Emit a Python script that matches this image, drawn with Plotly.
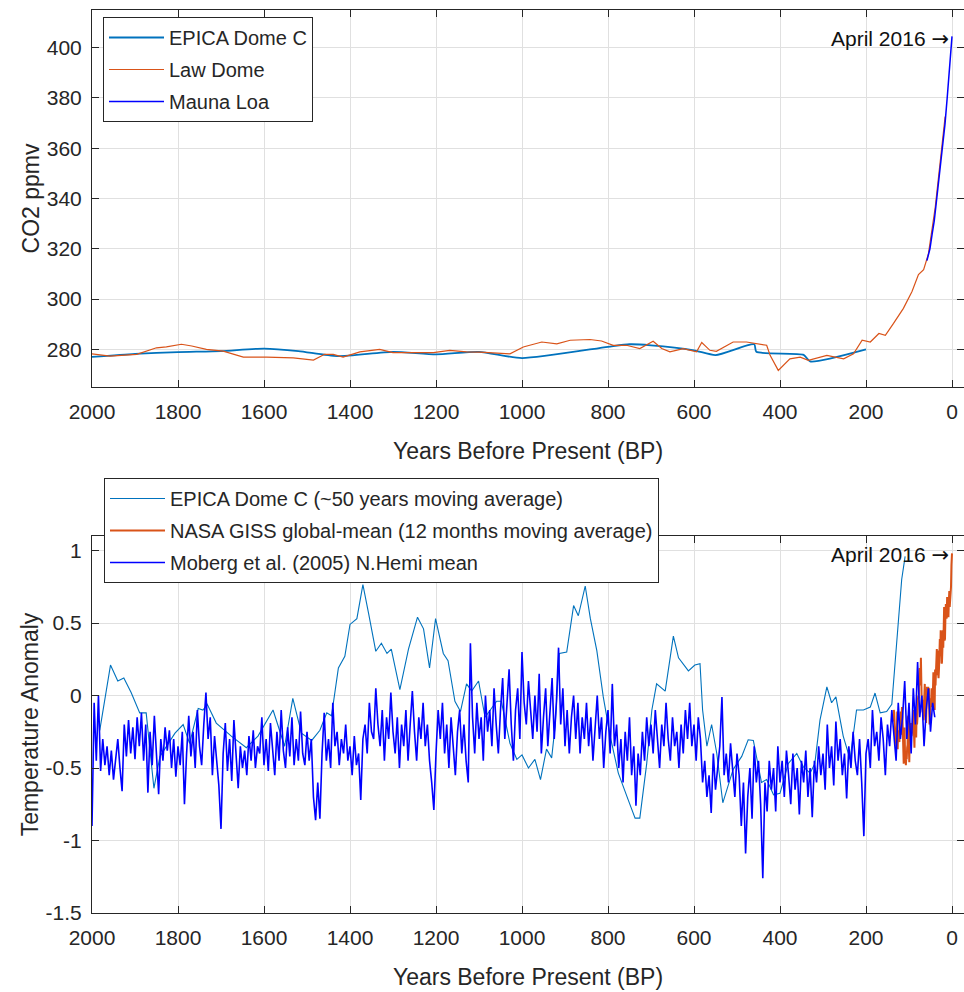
import numpy as np
import plotly.graph_objects as go

# ---------------- data: top panel (CO2) ----------------
epica_co2_bp = [2000, 1900, 1800, 1700, 1600, 1520, 1430, 1300, 1200, 1100, 1000, 800, 750, 700,
                600, 550, 460, 455, 345, 330, 200]
epica_co2 = [277.0, 278.2, 278.9, 279.3, 280.3, 279.3, 277.3, 279.0, 278.0, 279.0, 276.5, 281.0,
             282.0, 281.6, 279.6, 277.7, 282.0, 279.0, 277.8, 275.2, 280.0]

law_bp = [2001, 1958, 1896, 1850, 1827, 1792, 1768, 1734, 1695, 1648, 1594, 1532, 1485, 1459,
          1439, 1416, 1377, 1331, 1300, 1245, 1206, 1168, 1129, 1098, 1028, 997, 954, 919, 888,
          842, 815, 788, 757, 726, 695, 675, 656, 625, 594, 582, 563, 548, 509, 478, 447, 431,
          423, 404, 377, 353, 334, 291, 252, 229, 209, 190, 170, 155, 136, 113, 93, 78, 66, 55,
          39, 24, 16]
law_co2 = [278.2, 277.3, 278.0, 280.6, 281.0, 282.0, 281.3, 280.0, 279.3, 276.9, 276.9, 276.6,
           275.7, 278.0, 278.0, 276.9, 279.0, 280.0, 278.7, 278.7, 278.7, 279.6, 279.0, 278.9,
           278.2, 280.9, 282.9, 282.2, 283.6, 283.9, 283.3, 281.6, 281.6, 280.3, 283.2, 280.3,
           279.0, 280.3, 279.0, 282.7, 279.6, 279.2, 282.9, 282.9, 282.2, 281.6, 277.6, 271.6,
           276.2, 276.9, 275.6, 277.6, 276.2, 278.2, 283.6, 282.9, 286.3, 285.6, 290.3, 296.3,
           303.0, 309.7, 311.7, 317.8, 336.5, 361.9, 372.6]

mauna_bp = [58.3, 56.3, 51.3, 46.3, 41.3, 36.3, 31.3, 26.3, 21.3, 16.3, 11.3, 6.3, 1.3, 0.0]
mauna_co2 = [315.3, 316.9, 320.0, 325.7, 331.1, 338.7, 346.1, 354.4, 360.8, 369.6, 379.8,
             389.9, 400.8, 404.5]

# ---------------- data: bottom panel (temperature anomaly) ----------------
epica_t_bp = [1982, 1957, 1940, 1926, 1909, 1889, 1874, 1856, 1842, 1807, 1788, 1773, 1753, 1742,
              1732, 1711, 1676, 1641, 1614, 1579, 1552, 1533, 1513, 1489, 1470, 1454, 1443, 1427,
              1412, 1400, 1384, 1370, 1357, 1340, 1327, 1314, 1304, 1284, 1264, 1243, 1229, 1215,
              1201, 1183, 1172, 1156, 1143, 1129, 1117, 1101, 1086, 1059, 1048, 1028, 1012, 1000,
              985, 970, 957, 943, 931, 923, 913, 896, 880, 869, 853, 841, 826, 811, 795, 776, 753,
              737, 726, 710, 698, 687, 667, 648, 636, 613, 598, 586, 580, 570, 559, 547, 533, 509,
              489, 474, 462, 454, 443, 431, 415, 400, 381, 361, 346, 330, 319, 307, 291, 280, 270,
              253, 237, 222, 206, 190, 179, 167, 152, 140, 133, 125, 117, 109]
epica_t = [-0.24, 0.21, 0.10, 0.12, 0.02, -0.12, -0.12, -0.64, -0.42, -0.26, -0.20, -0.33, -0.09,
           -0.10, -0.06, -0.19, -0.28, -0.36, -0.28, -0.10, -0.35, -0.02, -0.26, -0.31, -0.24,
           -0.12, -0.14, 0.19, 0.27, 0.49, 0.53, 0.765, 0.57, 0.305, 0.36, 0.29, 0.32, 0.04, 0.32,
           0.54, 0.46, 0.19, 0.53, 0.29, 0.24, -0.04, -0.11, 0.08, 0.03, 0.10, -0.15, -0.04,
           -0.04, -0.33, -0.44, -0.41, -0.50, -0.44, -0.58, -0.37, -0.43, -0.21, 0.29, 0.30,
           0.62, 0.55, 0.755, 0.53, 0.31, -0.01, -0.28, -0.535, -0.72, -0.846, -0.846, -0.47,
           -0.10, 0.08, 0.03, 0.41, 0.26, 0.17, 0.21, 0.22, -0.10, -0.35, -0.20, -0.40, -0.74,
           -0.51, -0.42, -0.305, -0.31, -0.44, -0.60, -0.58, -0.685, -0.675, -0.47, -0.40, -0.49,
           -0.535, -0.47, -0.17, 0.06, -0.05, -0.01, -0.28, -0.44, -0.10, -0.10, -0.08, 0.017,
           -0.12, -0.11, -0.06, 0.22, 0.48, 0.80, 0.96]

giss_year = list(range(1880, 2016)) + [2016.3]
giss_t = [-0.18, -0.10, -0.12, -0.20, -0.28, -0.33, -0.31, -0.36, -0.18, -0.11,
          -0.37, -0.24, -0.27, -0.31, -0.32, -0.23, -0.11, -0.11, -0.27, -0.17,
          -0.08, -0.15, -0.28, -0.37, -0.47, -0.26, -0.22, -0.39, -0.43, -0.48,
          -0.43, -0.44, -0.36, -0.34, -0.15, -0.14, -0.36, -0.46, -0.30, -0.27,
          -0.27, -0.19, -0.28, -0.26, -0.27, -0.22, -0.10, -0.22, -0.20, -0.36,
          -0.16, -0.09, -0.16, -0.29, -0.12, -0.20, -0.15, -0.03, 0.00, -0.02,
          0.13, 0.19, 0.07, 0.09, 0.26, 0.09, -0.07, -0.03, -0.11, -0.11,
          -0.17, -0.07, 0.01, 0.08, -0.13, -0.14, -0.19, 0.05, 0.06, 0.03,
          -0.03, 0.06, 0.03, 0.05, -0.20, -0.11, -0.06, -0.02, -0.08, 0.05,
          0.03, -0.08, 0.01, 0.16, -0.07, -0.01, -0.10, 0.18, 0.07, 0.16,
          0.26, 0.32, 0.14, 0.31, 0.16, 0.12, 0.18, 0.32, 0.39, 0.27,
          0.45, 0.41, 0.22, 0.23, 0.32, 0.45, 0.33, 0.46, 0.61, 0.38,
          0.39, 0.54, 0.63, 0.62, 0.53, 0.68, 0.64, 0.66, 0.54, 0.65,
          0.72, 0.61, 0.64, 0.68, 0.75, 0.90, 0.98]

# Moberg et al. (2005), read every 5 years from 2000 BP onward
moberg_t = [
    -0.90, -0.05, -0.45, 0.00, -0.52, -0.30, -0.48, -0.35, -0.55, -0.38,
    -0.58, -0.42, -0.30, -0.50, -0.66, -0.20, -0.42, -0.17, -0.40, -0.22,
    -0.44, -0.15, -0.35, -0.12, -0.45, -0.20, -0.67, -0.25, -0.48, -0.14,
    -0.40, -0.68, -0.30, -0.45, -0.22, -0.38, -0.24, -0.50, -0.30, -0.56,
    -0.35, -0.48, -0.25, -0.75, -0.40, -0.14, -0.42, -0.25, -0.50, -0.10,
    -0.35, -0.48, -0.20, 0.02, -0.30, -0.15, -0.55, -0.28, -0.45, -0.62,
    -0.92, -0.40, -0.19, -0.52, -0.30, -0.59, -0.17, -0.45, -0.64, -0.35,
    -0.50, -0.38, -0.55, -0.28, -0.45, -0.24, -0.50, -0.35, -0.40, -0.15,
    -0.48, -0.30, -0.52, -0.19, -0.40, -0.55, -0.25, -0.45, -0.10, -0.38,
    -0.50, -0.22, -0.42, -0.15, -0.48, -0.30, -0.45, -0.11, -0.40, -0.48,
    -0.25, -0.45, -0.30, -0.70, -0.86, -0.60, -0.85, -0.40, -0.12, -0.45,
    -0.30, -0.50, -0.05, -0.35, -0.25, -0.48, -0.30, -0.40, -0.20, -0.45,
    -0.35, -0.55, -0.28, -0.48, -0.40, -0.72, -0.30, -0.20, -0.40, -0.05,
    -0.25, -0.30, 0.05, -0.20, -0.35, -0.10, -0.45, -0.15, -0.30, 0.02,
    -0.25, -0.40, -0.15, -0.50, -0.20, -0.35, -0.10, -0.45, -0.20, 0.03,
    -0.25, -0.45, -0.15, -0.30, -0.05, -0.35, -0.20, -0.45, -0.60, -0.79,
    -0.40, -0.10, -0.30, -0.05, -0.40, -0.20, -0.50, -0.15, -0.35, -0.55,
    -0.25, -0.10, -0.40, -0.20, -0.45, -0.60, 0.36, -0.15, -0.40, -0.05,
    -0.30, -0.15, -0.45, 0.00, -0.25, -0.10, -0.35, 0.05, -0.20, -0.40,
    -0.10, 0.12, -0.30, -0.05, 0.18, -0.20, -0.45, -0.10, 0.05, -0.30,
    0.30, -0.05, -0.20, 0.10, -0.10, -0.30, 0.00, -0.25, 0.15, -0.40,
    -0.15, 0.05, -0.35, -0.10, 0.12, -0.30, -0.05, 0.33, -0.20, 0.05,
    -0.35, -0.10, -0.40, -0.15, 0.00, -0.30, -0.05, -0.40, -0.15, -0.30,
    -0.05, -0.35, -0.15, -0.45, -0.20, 0.00, -0.30, -0.15, -0.50, -0.25,
    -0.10, -0.40, 0.08, -0.35, -0.20, -0.50, -0.30, -0.60, -0.25, -0.45,
    -0.15, -0.55, -0.35, -0.76, -0.40, -0.55, -0.25, -0.45, -0.15, -0.35,
    -0.20, -0.40, -0.10, -0.30, -0.50, -0.20, -0.35, -0.05, -0.30, -0.45,
    -0.15, -0.35, -0.25, -0.50, -0.20, -0.40, -0.10, -0.30, -0.05, -0.35,
    -0.20, -0.45, -0.15, -0.30, -0.60, -0.45, -0.70, -0.55, -0.81, -0.40,
    -0.65, -0.50, -0.35, -0.01, -0.55, -0.40, -0.60, -0.33, -0.50, -0.70,
    -0.40, -0.55, -0.90, -0.60, -1.09, -0.70, -0.50, -0.85, -0.35, -0.60,
    -0.45, -0.75, -1.26, -0.60, -0.80, -0.45, -0.65, -0.50, -0.80, -0.35,
    -0.60, -0.45, -0.70, -0.38, -0.55, -0.75, -0.40, -0.65, -0.50, -0.82,
    -0.45, -0.60, -0.38, -0.70, -0.50, -0.84, -0.45, -0.60, -0.35, -0.55,
    -0.40, -0.65, -0.20, -0.50, -0.35, -0.62, -0.18, -0.45, -0.30, -0.55,
    -0.40, -0.71, -0.35, -0.50, -0.25, -0.45, -0.55, -0.30, -0.60, -0.97,
    -0.40, -0.30, -0.50, -0.10, -0.35, -0.25, -0.45, -0.15, -0.30, -0.55,
    -0.20, -0.35, -0.10, -0.25, -0.45, -0.05, -0.30, -0.15, 0.10, -0.30,
    -0.05, -0.40, 0.05, -0.20, 0.23, -0.15, 0.00, -0.35, -0.10, 0.05,
    -0.25, -0.05, -0.15,
]
moberg_bp = [2000 - 5 * i for i in range(len(moberg_t))]

giss_bp = [2016.3 - y for y in giss_year]

x_ticks = [2000, 1800, 1600, 1400, 1200, 1000, 800, 600, 400, 200, 0]
co2_ticks = [280, 300, 320, 340, 360, 380, 400]
t_ticks = [-1.5, -1, -0.5, 0, 0.5, 1]
t_ticktext = ["-1.5", "-1", "-0.5", "0", "0.5", "1"]

# ---------------- styling ----------------
BLUE = "#0072BD"
ORANGE = "#D95319"
PURE_BLUE = "#0000FF"
TXT = "#262626"
GRID = "#e0e0e0"
FONT = "Liberation Sans, Arial, sans-serif"
TICK_SIZE = 21
TITLE_SIZE = 23
LEG_SIZE = 20

fig = go.Figure()

fig.add_trace(go.Scatter(x=epica_co2_bp, y=epica_co2, mode="lines", name="EPICA Dome C",
                         line=dict(color=BLUE, width=1.8, shape="spline", smoothing=0.6),
                         xaxis="x", yaxis="y", legend="legend", legendgroup="a"))
fig.add_trace(go.Scatter(x=law_bp, y=law_co2, mode="lines", name="Law Dome",
                         line=dict(color=ORANGE, width=1.2), xaxis="x", yaxis="y",
                         legend="legend", legendgroup="b"))
fig.add_trace(go.Scatter(x=mauna_bp, y=mauna_co2, mode="lines", name="Mauna Loa",
                         line=dict(color=PURE_BLUE, width=1.5), xaxis="x", yaxis="y",
                         legend="legend", legendgroup="c"))

fig.add_trace(go.Scatter(x=epica_t_bp, y=epica_t, mode="lines",
                         name="EPICA Dome C (~50 years moving average)",
                         line=dict(color=BLUE, width=1.1), xaxis="x2", yaxis="y2",
                         legend="legend2", legendgroup="d"))
fig.add_trace(go.Scatter(x=giss_bp, y=giss_t, mode="lines",
                         name="NASA GISS global-mean (12 months moving average)",
                         line=dict(color=ORANGE, width=2), xaxis="x2", yaxis="y2",
                         legend="legend2", legendgroup="e"))
fig.add_trace(go.Scatter(x=moberg_bp, y=moberg_t, mode="lines",
                         name="Moberg et al. (2005) N.Hemi mean",
                         line=dict(color=PURE_BLUE, width=1.6), xaxis="x2", yaxis="y2",
                         legend="legend2", legendgroup="f"))

axis_common = dict(showline=True, linecolor=TXT, linewidth=1, mirror="allticks",
                   ticks="inside", ticklen=7, tickcolor=TXT, showgrid=True,
                   gridcolor=GRID, gridwidth=1, zeroline=False,
                   tickfont=dict(family=FONT, size=TICK_SIZE, color=TXT),
                   title_font=dict(family=FONT, size=TITLE_SIZE, color=TXT))

H = 992
top_px, bot_px = 10, 79
area = H - top_px - bot_px


def ydom(y0, y1):
    return [(H - bot_px - y1) / area, (H - bot_px - y0) / area]


xaxis_extra = dict(ticklabelstandoff=6)
yaxis_extra = dict(ticklabelstandoff=5)

fig.update_layout(
    width=964, height=992,
    margin=dict(l=92, r=0, t=top_px, b=bot_px),
    paper_bgcolor="white", plot_bgcolor="white",
    font=dict(family=FONT, color=TXT, size=TICK_SIZE),
    xaxis=dict(domain=[0, 1], range=[2000, -27.9], tickvals=x_ticks, anchor="y",
               title=dict(text="Years Before Present (BP)", standoff=20),
               **xaxis_extra, **axis_common),
    yaxis=dict(domain=ydom(10, 387), range=[265, 415], tickvals=co2_ticks, anchor="x",
               title=dict(text="CO2 ppmv", standoff=0), **yaxis_extra, **axis_common),
    xaxis2=dict(domain=[0, 1], range=[2000, -27.9], tickvals=x_ticks, anchor="y2",
                title=dict(text="Years Before Present (BP)", standoff=20),
                **xaxis_extra, **axis_common),
    yaxis2=dict(domain=ydom(536, 913), range=[-1.5, 1.1], tickvals=t_ticks,
                ticktext=t_ticktext, anchor="x2",
                title=dict(text="Temperature Anomaly", standoff=0),
                **yaxis_extra, **axis_common),
    legend=dict(x=(103 - 92) / 872, y=ydom(17, 17)[0], xanchor="left", yanchor="top",
                bgcolor="white", bordercolor=TXT, borderwidth=1,
                font=dict(family=FONT, size=LEG_SIZE, color=TXT), itemwidth=55,
                tracegroupgap=3, traceorder="grouped"),
    legend2=dict(x=(104 - 92) / 872, y=ydom(478, 478)[0], xanchor="left", yanchor="top",
                 bgcolor="white", bordercolor=TXT, borderwidth=1,
                 font=dict(family=FONT, size=LEG_SIZE, color=TXT), itemwidth=55,
                 tracegroupgap=3, traceorder="grouped"),
    showlegend=True,
)

ann_text = 'April 2016 <span style="font-family:DejaVu Sans">\u2192</span>'
fig.add_annotation(x=3, y=403.4, xref="x", yref="y", text=ann_text,
                   showarrow=False, xanchor="right", yanchor="middle",
                   font=dict(family=FONT, size=TICK_SIZE, color="#111111"))
fig.add_annotation(x=3, y=0.97, xref="x2", yref="y2", text=ann_text,
                   showarrow=False, xanchor="right", yanchor="middle",
                   font=dict(family=FONT, size=TICK_SIZE, color="#111111"))

fig.write_html("out.html")
